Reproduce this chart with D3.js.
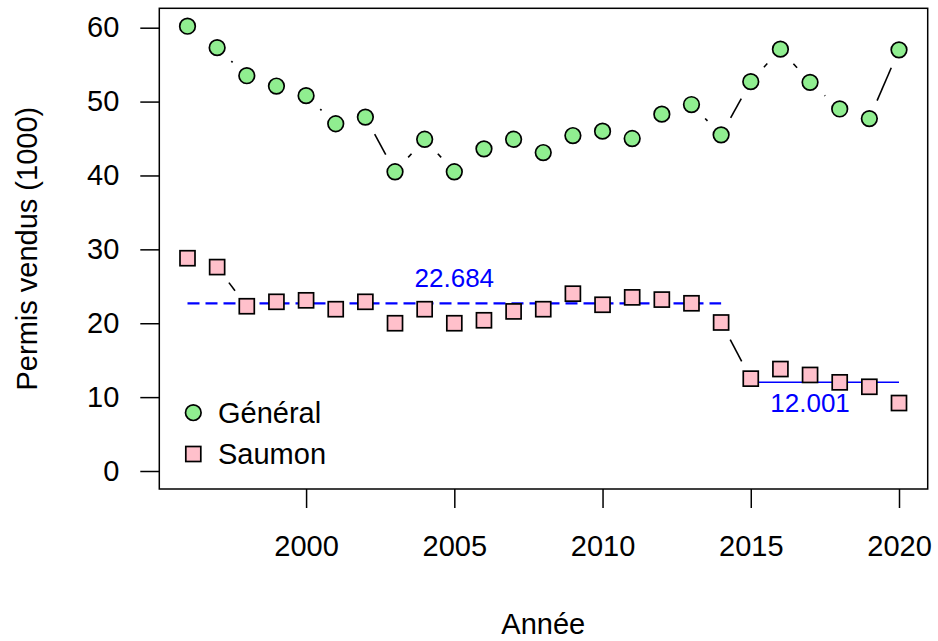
<!DOCTYPE html>
<html>
<head>
<meta charset="utf-8">
<script src="https://cdn.jsdelivr.net/npm/d3@7"></script>
<style>
    body { margin: 0; background: #fff; }
    svg { font-family: "Liberation Sans", Arial, sans-serif; }
</style>
</head>
<body>
<div id="chartDiv"></div>
<script>
var years = [1996, 1997, 1998, 1999, 2000, 2001, 2002, 2003, 2004, 2005, 2006, 2007, 2008,
             2009, 2010, 2011, 2012, 2013, 2014, 2015, 2016, 2017, 2018, 2019, 2020];
var general = [60.2, 57.3, 53.5, 52.1, 50.8, 47.0, 47.9, 40.5, 44.9, 40.5, 43.6, 44.9, 43.1,
               45.4, 46.0, 45.0, 48.3, 49.6, 45.5, 52.7, 57.1, 52.6, 49.0, 47.7, 57.0];
var saumon = [28.8, 27.6, 22.3, 22.9, 23.1, 21.9, 22.9, 20.0, 21.9, 20.0, 20.4, 21.6, 21.9,
              24.0, 22.5, 23.5, 23.2, 22.7, 20.1, 12.5, 13.8, 13.0, 12.0, 11.4, 9.2];
var xTicks = [2000, 2005, 2010, 2015, 2020];
var yTicks = [0, 10, 20, 30, 40, 50, 60];
// mean lines for saumon, before and after 2015
var meanStart = [1996, 2015];
var meanEnd = [2014, 2020];
var meanValue = [22.684, 12.001];
var meanLabel = ["22.684", "12.001"];
var meanLabelYear = [2005, 2017];
var legendNames = ["Général", "Saumon"];

var width = 938, height = 641;
var box = {left: 159.3, right: 927.7, top: 8.3, bottom: 489};

var x = d3.scaleLinear().domain([1996, 2020]).range([187.5, 899]);
var y = d3.scaleLinear().domain([0, 60]).range([471, 27.7]);

var svg = d3.select('#chartDiv').append('svg')
    .attr('width', width).attr('height', height);

// box
svg.append("rect")
    .attr("x", box.left).attr("y", box.top)
    .attr("width", box.right - box.left).attr("height", box.bottom - box.top)
    .attr("fill", "none").attr("stroke", "#000").attr("stroke-width", 1.5);

// y axis
var yAxis = svg.append("g")
    .attr("transform", "translate(" + box.left + ",0)")
    .call(d3.axisLeft(y).tickValues(yTicks).tickSize(19).tickPadding(21).tickFormat(d3.format("d")));
yAxis.select(".domain").remove();
yAxis.selectAll("line").attr("stroke-width", 1.5);
yAxis.selectAll("text").attr("font-size", 29).attr("fill", "#000")
    .attr("font-family", "Liberation Sans, Arial, sans-serif");

// x axis
var xAxis = svg.append("g")
    .attr("transform", "translate(0," + box.bottom + ")")
    .call(d3.axisBottom(x).tickValues(xTicks).tickSize(19).tickPadding(27).tickFormat(d3.format("d")));
xAxis.select(".domain").remove();
xAxis.selectAll("line").attr("stroke-width", 1.5);
xAxis.selectAll("text").attr("font-size", 29).attr("fill", "#000")
    .attr("font-family", "Liberation Sans, Arial, sans-serif");

// axis titles
svg.append("text")
    .attr("x", x(2008)).attr("y", 634)
    .attr("text-anchor", "middle").attr("font-size", 29)
    .text("Année");
svg.append("text")
    .attr("transform", "translate(37," + ((box.top + box.bottom) / 2) + ") rotate(-90)")
    .attr("text-anchor", "middle").attr("font-size", 29)
    .text("Permis vendus (1000)");

// type "b" lines: segments with a gap around each point
var gap = 19.5;
var drawGaps = function(values) {
    var segs = [];
    for (var i = 0; i < values.length - 1; i++) {
        var x0 = x(years[i]), y0 = y(values[i]);
        var x1 = x(years[i + 1]), y1 = y(values[i + 1]);
        var len = Math.sqrt((x1 - x0) * (x1 - x0) + (y1 - y0) * (y1 - y0));
        if (len > 2 * gap) {
            var ux = (x1 - x0) / len, uy = (y1 - y0) / len;
            segs.push([x0 + ux * gap, y0 + uy * gap, x1 - ux * gap, y1 - uy * gap]);
        }
    }
    svg.append("g").selectAll("line")
        .data(segs).enter().append("line")
        .attr("x1", function(d) { return d[0]; })
        .attr("y1", function(d) { return d[1]; })
        .attr("x2", function(d) { return d[2]; })
        .attr("y2", function(d) { return d[3]; })
        .attr("stroke", "#000").attr("stroke-width", 1.6);
};
drawGaps(general);
drawGaps(saumon);

// mean lines
var means = meanValue.map(function(v, i) {
    return {x0: meanStart[i], x1: meanEnd[i], v: v, label: meanLabel[i], lx: meanLabelYear[i]};
});
svg.append("g").selectAll("line")
    .data(means).enter().append("line")
    .attr("x1", function(d) { return x(d.x0); })
    .attr("x2", function(d) { return x(d.x1); })
    .attr("y1", function(d) { return y(d.v); })
    .attr("y2", function(d) { return y(d.v); })
    .attr("stroke", "#0000FF")
    .attr("stroke-width", function(d, i) { return i == 0 ? 2.4 : 1.5; })
    .attr("stroke-dasharray", function(d, i) { return i == 0 ? "12,6" : null; });

// circles
svg.append("g").selectAll("circle")
    .data(general).enter().append("circle")
    .attr("cx", function(d, i) { return x(years[i]); })
    .attr("cy", function(d) { return y(d); })
    .attr("r", 7.8)
    .attr("fill", "#90EE90").attr("stroke", "#000").attr("stroke-width", 1.7);

// squares
var sq = 15;
svg.append("g").selectAll("rect")
    .data(saumon).enter().append("rect")
    .attr("x", function(d, i) { return x(years[i]) - sq / 2; })
    .attr("y", function(d) { return y(d) - sq / 2; })
    .attr("width", sq).attr("height", sq)
    .attr("fill", "#FFC0CB").attr("stroke", "#000").attr("stroke-width", 1.7);

// mean labels
svg.append("g").selectAll("text")
    .data(means).enter().append("text")
    .attr("x", function(d) { return x(d.lx); })
    .attr("y", function(d, i) { return i == 0 ? y(d.v) - 16 : y(d.v) + 30; })
    .attr("text-anchor", "middle").attr("font-size", 26).attr("fill", "#0000FF")
    .text(function(d) { return d.label; });

// legend
var legend = svg.append("g");
legend.append("circle")
    .attr("cx", 193.3).attr("cy", 412.7).attr("r", 7.8)
    .attr("fill", "#90EE90").attr("stroke", "#000").attr("stroke-width", 1.7);
legend.append("rect")
    .attr("x", 193.3 - sq / 2).attr("y", 454 - sq / 2).attr("width", sq).attr("height", sq)
    .attr("fill", "#FFC0CB").attr("stroke", "#000").attr("stroke-width", 1.7);
legend.selectAll("text")
    .data(legendNames).enter().append("text")
    .attr("x", 218)
    .attr("y", function(d, i) { return i == 0 ? 423 : 464; })
    .attr("font-size", 29)
    .text(function(d) { return d; });
</script>
</body>
</html>
